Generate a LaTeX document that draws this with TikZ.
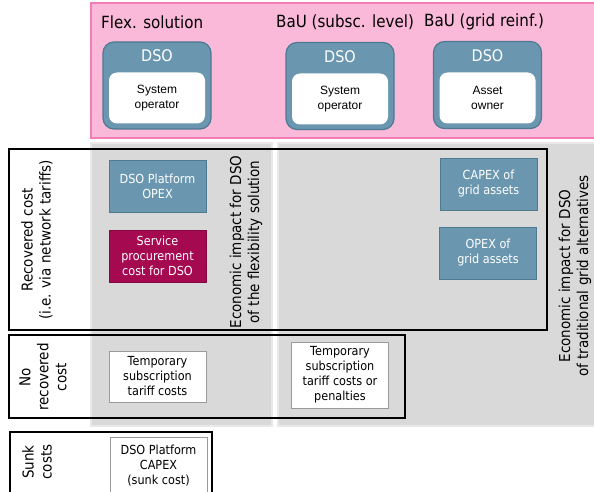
\documentclass[tikz,border=0pt]{standalone}
\usepackage{fontspec}
\setmainfont{DejaVu Sans}[FakeStretch=0.9]
\newfontfamily\arialf{Liberation Sans}
\definecolor{pinkfill}{HTML}{FBB9DA}
\definecolor{pinkline}{HTML}{F27DB5}
\definecolor{panelgrey}{HTML}{D9D9D9}
\definecolor{panelline}{HTML}{E9E9E9}
\definecolor{steel}{HTML}{6A97AF}
\definecolor{steelline}{HTML}{4D7A91}
\definecolor{crimson}{HTML}{A5094F}
\definecolor{boxline}{HTML}{9A9A9A}
\tikzset{
  hdr/.style={anchor=west, font=\fontsize{16.8}{19}\selectfont, inner sep=0pt},
  dsobox/.style={draw=steelline, line width=1.2pt, fill=steel, rounded corners=11pt, minimum width=108pt, minimum height=87pt, inner sep=0pt},
  dsolabel/.style={text=white, font=\fontsize{16}{19}\selectfont, inner sep=0pt},
  rolebox/.style={fill=white, rounded corners=8pt, minimum width=96pt, minimum height=51pt, align=center, font=\arialf\fontsize{12}{15.5}\selectfont, inner sep=0pt},
  bluebox/.style={draw=steelline, line width=0.8pt, fill=steel, text=white, minimum width=97pt, minimum height=52pt, align=center, font=\fontsize{12.5}{15}\selectfont, inner sep=0pt},
  redbox/.style={bluebox, fill=crimson, draw=crimson!80!black},
  whitebox/.style={draw=boxline, line width=0.8pt, fill=white, text=black, minimum width=97pt, align=center, font=\fontsize{12.5}{15}\selectfont, inner sep=0pt},
  frame/.style={draw=black, line width=1.3pt, inner sep=0pt},
  panel/.style={fill=panelgrey, draw=panelline, line width=1.5pt, inner sep=0pt},
  sidelabel/.style={rotate=90, align=center, font=\fontsize{15}{18}\selectfont, inner sep=0pt},
}
\begin{document}
\begin{tikzpicture}[x=1pt,y=-1pt]
\useasboundingbox (0,0) rectangle (594,492);
\clip (0,0) rectangle (594,492);
% pink band
\path[fill=pinkfill, draw=pinkline, line width=2pt] (91,3) rectangle (600,138);
% grey panels
\path[panel] (91,143) rectangle (272,426);
\path[panel] (278,143) rectangle (600,426);
% headers
\node[hdr] (h1) at (101,22) {Flex. solution};
\node[hdr] (h2) at (276,22) {BaU (subsc. level)};
\node[hdr] (h3) at (424,22) {BaU (grid reinf.)};
% DSO boxes
\node[dsobox] (d1) at (157,85.5) {};
\node[dsobox] (d2) at (340,86) {};
\node[dsobox] (d3) at (487.5,85) {};
\node[dsolabel] (d1l) at (157,56) {DSO};
\node[dsolabel] (d2l) at (340,57) {DSO};
\node[dsolabel] (d3l) at (487.5,56) {DSO};
\node[rolebox] (r1) at (157,98) {System\\operator};
\node[rolebox] (r2) at (340,99) {System\\operator};
\node[rolebox] (r3) at (487.5,98) {Asset\\owner};
% frames
\path[frame] (9,149) rectangle (547,330);
\path[frame] (9,335) rectangle (405,418);
\path[frame] (10,432) rectangle (212,500);
% boxes
\node[bluebox] (opex) at (157.5,186.5) {DSO Platform\\OPEX};
\node[redbox] (serv) at (157.5,256) {Service\\procurement\\cost for DSO};
\node[bluebox] (capexg) at (488.5,184) {CAPEX of\\grid assets};
\node[bluebox] (opexg) at (488,253) {OPEX of\\grid assets};
\node[whitebox, minimum height=51pt] (temp1) at (157.5,376.5) {Temporary\\subscription\\tariff costs};
\node[whitebox, minimum height=66pt] (temp2) at (340,375) {Temporary\\subscription\\tariff costs or\\penalties};
\node[whitebox, minimum height=56pt, anchor=north] (capex) at (158.5,437) {DSO Platform\\CAPEX\\(sunk cost)};
% side labels
\node[sidelabel] (lrec) at (37,240) {Recovered cost\\(i.e. via network tariffs)};
\node[sidelabel] (leflex) at (246,242) {Economic impact for DSO\\of the flexibility solution};
\node[sidelabel] (lnorec) at (43,377) {No\\recovered\\cost};
\node[sidelabel] (lsunk) at (37,462) {Sunk\\costs};
\node[sidelabel] (legrid) at (575,276) {Economic impact for DSO\\of traditional grid alternatives};
\end{tikzpicture}
\end{document}
